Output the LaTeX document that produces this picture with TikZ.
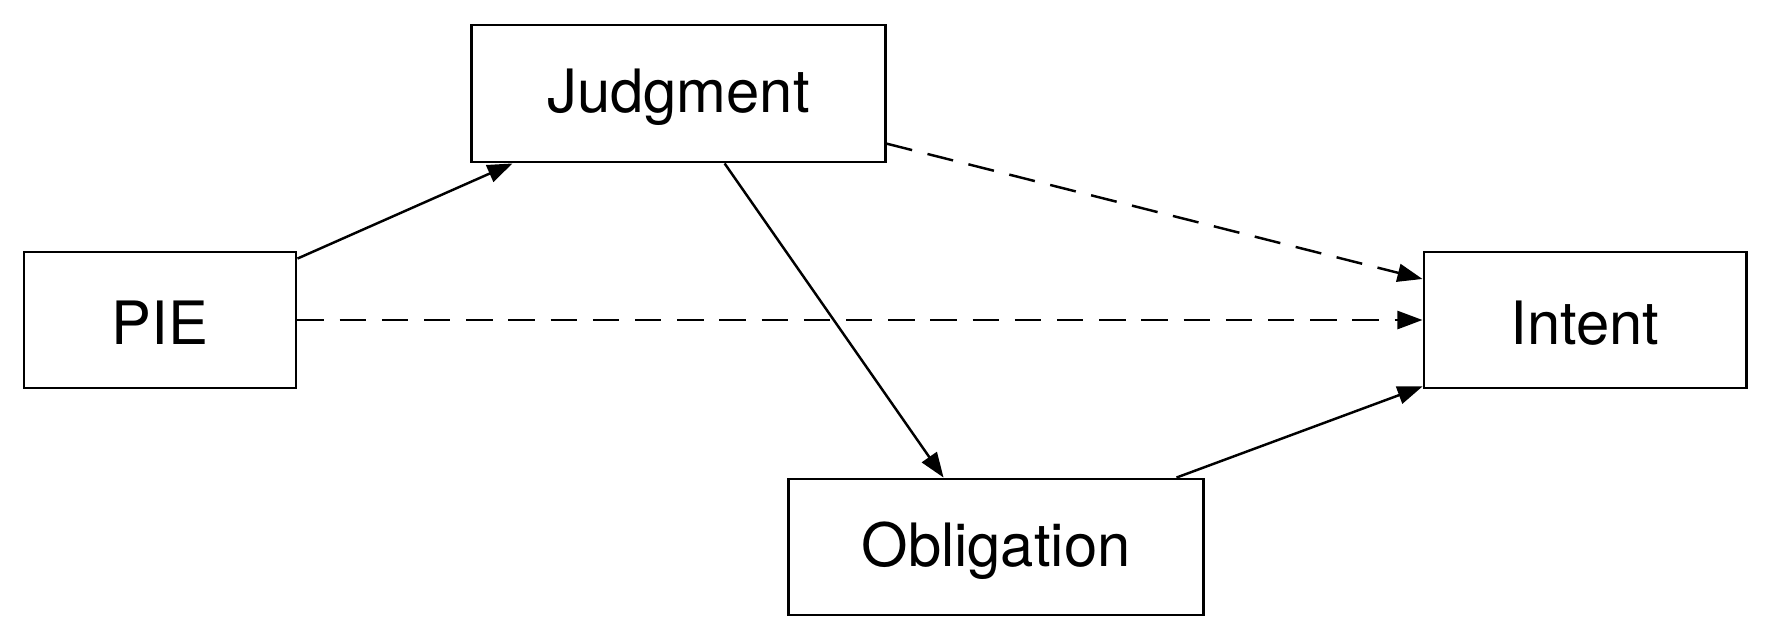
\documentclass[tikz,border=0pt]{standalone}
\usepackage{fontspec}
\setmainfont{TeX Gyre Heros}
\usetikzlibrary{arrows.meta}
\begin{document}
\begin{tikzpicture}[x=0.01cm,y=-0.01cm,
  box/.style={draw, line width=0.8pt, inner sep=0pt},
  lbl/.style={font=\fontsize{17}{20}\selectfont, inner sep=0pt},
  conn/.style={line width=0.7pt, -{Triangle[length=0.25cm,width=0.18cm]}},
  dconn/.style={conn, dash pattern=on 7.5pt off 4.5pt}]
\useasboundingbox (0,0) rectangle (1772,639);
\node[box, minimum width=4.13cm, minimum height=1.37cm] (judg) at (678.5,93.5) {};
\node[lbl] (judgtext) at ([yshift=-0.04cm]judg.center) {Judgment};
\node[box, minimum width=2.72cm, minimum height=1.36cm] (pie) at (160,320) {};
\node[lbl] (pietext) at ([yshift=-0.03cm]pie.center) {PIE};
\node[box, minimum width=3.22cm, minimum height=1.36cm] (intent) at (1585,320) {};
\node[lbl] (intenttext) at ([yshift=-0.03cm]intent.center) {Intent};
\node[box, minimum width=4.14cm, minimum height=1.36cm] (obl) at (996,547) {};
\node[lbl] (obltext) at ([yshift=-0.04cm]obl.center) {Obligation};
\draw[conn] ([yshift=-0.08cm]pie.north east) -- ([xshift=0.42cm]judg.south west);
\draw[conn] ([xshift=2.54cm]judg.south west) -- ([xshift=1.56cm]obl.north west);
\draw[dconn] ([yshift=-1.2cm]judg.north east) -- ([yshift=0.41cm]intent.west);
\draw[dconn] (pie.east) -- (intent.west);
\draw[conn] ([xshift=-0.28cm]obl.north east) -- ([yshift=0.03cm]intent.south west);
\end{tikzpicture}
\end{document}
